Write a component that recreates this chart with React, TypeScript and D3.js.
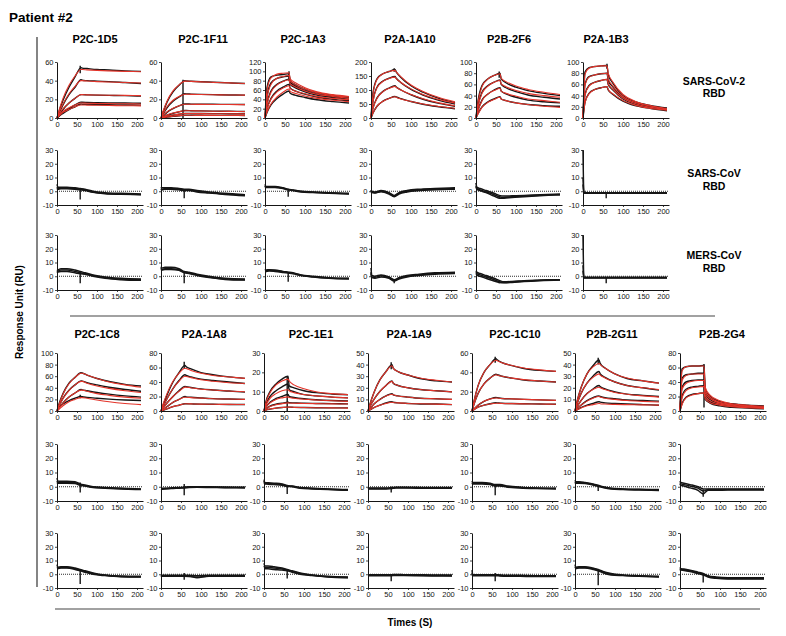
import { useEffect, useRef } from 'react';
import * as d3 from 'd3';

// sample times (s) for the binding sensorgrams and the control traces
const T = [0, 5, 15, 30, 45, 60, 63, 75, 100, 130, 170, 210];
const TC = [0, 2, 10, 25, 45, 58, 70, 90, 120, 160, 210];
const X_TICKS = [0, 50, 100, 150, 200];
const CTRL_TICKS = [-10, 0, 10, 20, 30];

const TOP_NAMES = ['P2C-1D5', 'P2C-1F11', 'P2C-1A3', 'P2A-1A10', 'P2B-2F6', 'P2A-1B3'];
const BOTTOM_NAMES = ['P2C-1C8', 'P2A-1A8', 'P2C-1E1', 'P2A-1A9', 'P2C-1C10', 'P2B-2G11', 'P2B-2G4'];
const TOP_YMAX = [60, 60, 120, 200, 100, 100];
const TOP_YSTEP = [20, 20, 20, 50, 20, 20];
const BOTTOM_YMAX = [100, 80, 30, 50, 60, 50, 80];
const BOTTOM_YSTEP = [20, 20, 10, 10, 20, 10, 20];
const ROW_LABELS = [['SARS-CoV-2', 'RBD'], ['SARS-CoV', 'RBD'], ['MERS-CoV', 'RBD']];

// SARS-CoV-2 RBD binding: black = measured, red = fit
const D5_B = [
  [0, 7, 19, 33, 44, 54, 53.5, 53, 52, 51.5, 50.5, 50],
  [0, 5, 14, 25, 33, 41, 40.5, 40, 39.5, 39, 38, 37],
  [0, 3, 9, 16, 21, 25, 25, 24.8, 24.5, 24.2, 24, 23.5],
  [0, 2, 6, 10, 14, 17, 16.8, 16.6, 16.4, 16.2, 16, 15.8],
  [0, 2, 5, 9, 12, 15, 14.8, 14.6, 14.4, 14.2, 14, 13.8],
];
const D5_R = [
  [0, 8, 21, 35, 45, 52, 52, 51.6, 51, 50.5, 50, 49.5],
  [0, 6, 15, 26, 34, 40, 40, 39.6, 39, 38.5, 38, 37.5],
  [0, 4, 10, 16, 21, 25, 25, 24.8, 24.6, 24.4, 24.2, 24],
  [0, 3, 7, 11, 14, 16, 16, 15.8, 15.6, 15.4, 15.2, 15],
  [0, 2, 6, 9, 12, 14, 14, 13.8, 13.6, 13.4, 13.2, 13],
];
const F11_B = [
  [0, 6, 17, 28, 35, 40, 39.6, 39.3, 38.8, 38.3, 37.6, 37],
  [0, 4, 11, 18, 22.5, 26, 25.8, 25.6, 25.3, 25, 24.7, 24.5],
  [0, 2, 6, 10, 13, 15, 15, 14.9, 14.8, 14.7, 14.6, 14.5],
  [0, 1, 3, 5, 6.5, 8, 8, 7.8, 7.6, 7.4, 7.2, 7],
  [0, 0.6, 1.8, 3, 4, 5, 5, 4.9, 4.8, 4.7, 4.6, 4.5],
  [0, 0.3, 1, 1.8, 2.4, 3, 3, 3, 2.9, 2.8, 2.8, 2.7],
];
const F11_R = [
  [0, 7, 18, 29, 35.5, 39.5, 39.5, 39.2, 38.7, 38.2, 37.6, 37],
  [0, 4.5, 12, 19, 23, 25.5, 25.5, 25.3, 25.1, 24.9, 24.7, 24.5],
  [0, 2.5, 6.5, 10.5, 13, 14.8, 14.8, 14.7, 14.6, 14.5, 14.4, 14.3],
  [0, 1.2, 3.2, 5.3, 6.8, 7.8, 7.8, 7.7, 7.5, 7.3, 7.1, 7],
  [0, 0.7, 2, 3.3, 4.2, 4.9, 4.9, 4.8, 4.7, 4.6, 4.5, 4.4],
  [0, 0.4, 1.1, 1.9, 2.5, 2.9, 2.9, 2.9, 2.8, 2.8, 2.7, 2.7],
];
const A3_B = [
  [0, 65, 88, 92, 93, 95, 80, 72, 62, 54, 48, 45],
  [0, 45, 75, 85, 88, 90, 77, 69, 59, 51, 46, 43],
  [0, 30, 58, 72, 79, 83, 72, 65, 56, 49, 44, 40],
  [0, 20, 42, 58, 66, 72, 64, 58, 51, 45, 40, 37],
  [0, 12, 28, 42, 51, 58, 53, 49, 44, 39, 35, 32],
];
const A3_R = [
  [0, 60, 86, 94, 96, 97, 84, 76, 65, 56, 50, 46],
  [0, 42, 72, 85, 89, 91, 80, 72, 62, 54, 48, 45],
  [0, 28, 55, 71, 78, 82, 73, 67, 58, 51, 46, 42],
  [0, 19, 40, 56, 64, 69, 63, 58, 52, 46, 42, 39],
  [0, 13, 30, 45, 55, 62, 57, 53, 47, 42, 38, 35],
];
const A10_B = [
  [0, 90, 140, 158, 166, 173, 165, 145, 115, 92, 70, 55],
  [0, 60, 110, 132, 142, 148, 142, 126, 102, 82, 63, 50],
  [0, 35, 72, 95, 107, 115, 111, 100, 83, 67, 52, 42],
  [0, 18, 42, 60, 70, 77, 75, 69, 59, 49, 40, 33],
];
const A10_R = [
  [0, 85, 138, 158, 166, 170, 165, 147, 118, 95, 73, 58],
  [0, 58, 108, 131, 141, 146, 141, 127, 104, 84, 66, 53],
  [0, 34, 70, 94, 106, 113, 110, 100, 84, 69, 54, 44],
  [0, 18, 42, 60, 70, 76, 74, 68, 59, 50, 41, 35],
];
const F6_B = [
  [0, 30, 58, 70, 76, 80, 70, 63, 55, 49, 44, 40],
  [0, 22, 46, 58, 64, 68, 60, 54, 47, 41, 37, 34],
  [0, 14, 32, 43, 50, 54, 48, 43, 37, 32, 29, 27],
  [0, 8, 20, 29, 34, 38, 34, 31, 27, 24, 22, 21],
];
const F6_R = [
  [0, 28, 56, 70, 76, 79, 71, 65, 57, 51, 46, 42],
  [0, 20, 44, 57, 64, 67, 61, 56, 49, 44, 40, 37],
  [0, 13, 31, 43, 49, 53, 48, 44, 39, 34, 31, 28],
  [0, 7, 19, 28, 33, 37, 34, 31, 27, 24, 21, 19],
];
const B3_B = [
  [0, 82, 90, 92, 93, 94, 78, 62, 40, 29, 22, 18],
  [0, 60, 74, 77, 79, 80, 68, 55, 37, 27, 20, 16],
  [0, 42, 58, 64, 67, 69, 60, 50, 34, 25, 19, 15],
  [0, 28, 44, 51, 54, 56, 50, 42, 30, 22, 17, 13],
];
const B3_R = [
  [0, 78, 89, 92, 93, 93, 80, 64, 42, 30, 22, 17],
  [0, 58, 73, 77, 79, 80, 70, 57, 38, 28, 21, 16],
  [0, 40, 57, 64, 67, 69, 61, 51, 35, 26, 19, 15],
  [0, 27, 43, 51, 54, 56, 51, 43, 31, 23, 17, 14],
];
const C8_B = [
  [0, 12, 30, 48, 58, 66, 65.5, 62, 56, 51, 46, 43],
  [0, 8, 22, 36, 45, 52, 51.5, 49, 45, 41, 37, 34],
  [0, 5, 14, 24, 31, 37, 36.5, 35, 32, 29, 26, 24],
  [0, 6, 12, 18, 22, 25, 24.5, 23.5, 22, 20.5, 19, 18],
];
const C8_R = [
  [0, 11, 29, 47, 58, 65, 65, 62, 56, 50, 45, 41],
  [0, 8, 21, 35, 45, 51, 51, 48, 43, 39, 35, 32],
  [0, 5, 13, 24, 31, 36, 36, 34, 30, 27, 24, 22],
  [0, 3, 9, 16, 20, 23, 23, 22, 19, 16, 13, 11],
];
const A8_B = [
  [0, 8, 22, 40, 53, 63, 61, 58, 53, 50, 47, 45],
  [0, 6, 17, 31, 42, 50, 49, 47, 44, 42, 40, 38],
  [0, 4, 11, 20, 28, 34, 33.5, 32.5, 30.5, 29, 27.5, 26],
  [0, 2, 6, 12, 16, 20, 19.5, 19, 18, 17, 16.5, 16],
  [0, 1, 3, 6, 8, 10, 10, 9.8, 9.5, 9.3, 9, 9],
];
const A8_R = [
  [0, 9, 24, 41, 52, 59, 58.5, 56, 52, 49, 47, 45],
  [0, 6, 17, 31, 41, 48, 47.5, 46, 43, 41, 39, 38],
  [0, 4, 11, 20, 27, 33, 33, 32, 30, 29, 27.5, 26.5],
  [0, 2, 6, 12, 16, 19, 19, 18.5, 17.8, 17, 16.5, 16],
  [0, 1, 3, 6, 8, 10, 10, 9.8, 9.5, 9.3, 9.1, 9],
];
const E1_B = [
  [0, 5, 10, 14, 16.5, 18, 13, 12, 10.5, 9.5, 8.8, 8.4],
  [0, 3.5, 7.5, 10.5, 12.5, 14, 11, 10, 8.5, 7.8, 7.2, 6.8],
  [0, 2, 4.5, 6.5, 7.5, 8.5, 7.5, 7, 6.3, 5.8, 5.4, 5.2],
  [0, 1, 2.5, 3.5, 4, 4.5, 4.3, 4.2, 4, 3.9, 3.8, 3.7],
  [0, 0.5, 1, 1.5, 1.8, 2, 2, 1.9, 1.8, 1.7, 1.6, 1.6],
];
const E1_R = [
  [0, 4.5, 9.5, 13.5, 15.5, 16.5, 15.5, 13.5, 11.5, 10, 9, 8.5],
  [0, 3, 6.5, 9, 10.5, 11, 10.5, 9.5, 8.5, 7.8, 7.2, 6.8],
  [0, 2, 4.2, 6, 6.8, 7.3, 7, 6.6, 6.1, 5.7, 5.3, 5],
  [0, 1, 2.3, 3.3, 3.8, 4.2, 4.1, 4, 3.9, 3.8, 3.7, 3.6],
  [0, 0.5, 1, 1.5, 1.8, 2, 2, 1.9, 1.8, 1.7, 1.6, 1.5],
];
const A9_B = [
  [0, 6, 16, 27, 34, 40, 37, 34, 31, 28, 26, 25],
  [0, 4, 10, 17, 22, 26, 24, 22, 20, 18.5, 17.5, 16.5],
  [0, 2, 6, 10, 13, 15, 14, 13, 12, 11, 10.5, 10],
  [0, 1, 3, 5, 7, 8, 7.5, 7, 6.5, 6, 6, 5.5],
];
const A9_R = [
  [0, 6, 16, 27, 34, 39, 37, 34, 31, 28.5, 26.5, 25],
  [0, 4, 10, 17, 22, 25.5, 24, 22, 20, 18.5, 17.5, 16.5],
  [0, 2, 6, 10, 13, 14.5, 14, 13, 12, 11, 10.5, 10],
  [0, 1, 3, 5, 6.5, 7.5, 7.3, 7, 6.5, 6.2, 5.9, 5.6],
];
const C10_B = [
  [0, 10, 26, 40, 48, 54, 53, 50, 47, 44, 42, 41],
  [0, 7, 18, 28, 34, 38, 37.5, 36, 34, 32, 31, 30],
  [0, 2, 6, 10, 12.5, 14, 13.8, 13, 12.5, 12, 11.5, 11],
  [0, 1.5, 4, 6, 7.5, 8.5, 8.4, 8, 7.7, 7.5, 7.2, 7],
];
const C10_R = [
  [0, 10, 26, 40, 48, 52.5, 52, 50, 47, 44.5, 42.5, 41],
  [0, 7, 18, 28, 34, 37.5, 37.2, 36, 34, 32.5, 31, 30],
  [0, 2, 6, 10, 12.3, 13.5, 13.4, 13, 12.5, 12, 11.5, 11],
  [0, 1.5, 4, 6, 7.3, 8, 8, 7.8, 7.6, 7.4, 7.2, 7],
];
const G11_B = [
  [0, 8, 20, 32, 39, 44, 41, 37, 32, 28, 26, 24],
  [0, 6, 15, 24, 30, 34, 32, 29, 25, 22, 20, 18],
  [0, 3.5, 9, 15, 19, 22, 21, 19, 16.5, 14.5, 13.5, 12.5],
  [0, 2, 5, 9, 11.5, 13, 12.5, 11.5, 10.5, 9.5, 9, 8.5],
  [0, 1, 3, 5, 6.5, 8, 7.6, 7, 6.5, 6, 5.5, 5],
];
const G11_R = [
  [0, 8, 20, 32, 38, 41, 40, 37, 32, 28.5, 26, 24],
  [0, 6, 15, 24, 29, 32, 31, 28.5, 25, 22, 20, 18.5],
  [0, 3.5, 9, 15, 18.5, 20.5, 20, 18.5, 16, 14.5, 13, 12],
  [0, 2, 5, 8.5, 11, 12.5, 12, 11, 10, 9, 8.3, 7.8],
  [0, 1, 2.5, 4.5, 5.5, 6.5, 6.3, 6, 5.7, 5.5, 5.3, 5.1],
];
const G4_B = [
  [0, 58, 61, 62, 62, 63, 30, 20, 13, 10, 8, 7],
  [0, 45, 50, 51, 52, 52, 27, 18, 12, 9, 7, 6],
  [0, 32, 40, 42, 43, 43, 24, 16, 10, 7.5, 6, 5],
  [0, 20, 30, 33, 34, 35, 20, 13, 9, 6.5, 5, 4],
  [0, 10, 19, 23, 24, 25, 16, 11, 7, 5, 4, 3],
];
const G4_R = [
  [0, 55, 61, 62, 62, 62, 33, 22, 14, 10, 8, 6.5],
  [0, 42, 49, 51, 51, 51, 29, 19, 12, 9, 7, 5.5],
  [0, 30, 38, 41, 42, 42, 25, 17, 11, 8, 6, 5],
  [0, 18, 28, 32, 33, 34, 21, 14, 9.5, 7, 5.5, 4.5],
  [0, 9, 18, 22, 24, 25, 17, 11.5, 8, 6, 4.5, 3.5],
];
// vertical injection artefacts in binding panels: [t, low, high]
const TOP_SPIKES = [[58, 48, 56], [55, 0, 41], [60, 80, 100], [58, 165, 178], [58, 72, 83], [60, 88, 97]];
const BOTTOM_SPIKES = [[58, 22, 28], [58, 58, 68], [58, 0, 18], [58, 36, 42], [58, 50, 56], [58, 40, 46], [60, 5, 65]];

// SARS-CoV RBD and MERS-CoV RBD controls (top block)
const CV_TOP = [
  [[5, 3, 3, 3, 2.5, 2, 1.5, 0, -1, -1.5, -2], [3, 2, 2.3, 2.3, 2, 1.5, 1, -0.5, -1.5, -2, -2.3], [2, 1.5, 1.8, 1.8, 1.5, 1, 0.5, -0.8, -1.8, -2.2, -2.5]],
  [[3, 2.5, 2.5, 2.5, 2, 1.5, 1.5, 0.5, -0.5, -1.5, -2.5], [2, 1.5, 2, 2, 1.5, 1, 1, 0, -1, -2, -3], [1.5, 1, 1.5, 1.5, 1, 0.5, 0.5, -0.5, -1.3, -2.3, -3.2]],
  [[5, 3.5, 3.5, 3.5, 2.5, 1.5, 1, 0, -0.5, -1, -1.5], [4, 3, 3, 3, 2.2, 1.2, 0.8, -0.2, -0.8, -1.2, -1.8], [3.5, 2.8, 2.8, 2.8, 2, 1, 0.5, -0.5, -1, -1.5, -2]],
  [[1, 0, -0.5, 0.5, -1, -3, -1, 0.5, 1.5, 2, 2.5], [0.5, -0.5, -1, 0, -1.5, -3.5, -1.5, 0, 1, 1.5, 2], [0, -1, -1.2, -0.3, -2, -4, -2, -0.5, 0.5, 1, 1.5]],
  [[6, 3, 2, 0.5, -1.5, -3, -3.5, -3.3, -3, -2.5, -2], [4, 2, 1, -0.5, -2.5, -4, -4.5, -4, -3.5, -3, -2.5], [3, 1.5, 0.5, -1, -3.5, -5, -5, -4.5, -4, -3.2, -2.5]],
  [[30, -0.5, -1, -1, -1, -1, -1, -1, -1, -1, -1], [10, -1, -1.2, -1.2, -1.2, -1.2, -1.2, -1.2, -1.2, -1.2, -1.2], [5, -1.5, -1.5, -1.5, -1.5, -1.5, -1.5, -1.5, -1.5, -1.5, -1.5]],
];
const MR_TOP = [
  [[4, 4.5, 5.5, 5.5, 4.5, 3.5, 2.5, 1, -0.5, -1.5, -2], [3, 3.5, 4.5, 4.5, 3.5, 2.5, 2, 0.5, -1, -2, -2.5], [2.5, 3, 3.5, 3.5, 2.5, 1.8, 1.5, 0, -1.5, -2.5, -3]],
  [[7, 6, 6.5, 6.5, 5.5, 3.5, 3, 1.5, 0, -1.5, -2], [6, 5, 5.5, 5.5, 4.8, 3, 2.5, 1, -0.5, -2, -2.5], [5, 4.5, 5, 5, 4.3, 2.5, 2, 0.5, -1, -2.3, -2.8]],
  [[5, 4.5, 4.8, 4.5, 3.5, 3, 2.5, 1, 0, -1, -1.5], [4, 4, 4.3, 4, 3.2, 2.7, 2.2, 0.8, -0.3, -1.2, -1.7], [3.5, 3.5, 3.8, 3.5, 2.8, 2.3, 1.8, 0.5, -0.5, -1.4, -2]],
  [[6, 0.5, 0, 1, -0.5, -2.5, -1, 0.5, 1.5, 2.5, 3], [3, -0.5, -0.8, 0.3, -1, -3, -1.5, 0, 1, 2, 2.5], [2, -1, -1.5, -0.5, -1.5, -3.5, -2, -0.5, 0.5, 1.5, 2]],
  [[4, 3, 2, 0.5, -1.5, -3, -4, -3.8, -3.2, -2.8, -2.5], [3, 2, 1, -0.5, -2.5, -4, -4.5, -4.2, -3.5, -3, -2.5], [2, 1, 0, -1.5, -3.5, -4.5, -4.8, -4.5, -3.8, -3.2, -2.8]],
  [[30, -0.5, -0.8, -0.8, -0.8, -0.8, -0.8, -0.8, -0.8, -0.8, -0.8], [8, -1, -1, -1, -1, -1, -1, -1, -1, -1, -1], [4, -1.3, -1.3, -1.3, -1.3, -1.3, -1.3, -1.3, -1.3, -1.3, -1.3]],
];
// controls (bottom block)
const CV_BOTTOM = [
  [[6, 4, 3.8, 3.8, 3.5, 2, 1.2, 0, -0.5, -1, -1.5], [4, 3, 3, 3, 2.8, 1.5, 0.8, -0.3, -0.8, -1.3, -1.8], [3, 2.5, 2.5, 2.5, 2.2, 1, 0.5, -0.5, -1, -1.5, -2]],
  [[-1, -1, -1, -0.8, -0.5, -0.3, 0, 0, 0, -0.2, -0.3], [-1.5, -1.5, -1.3, -1, -0.8, -0.5, -0.3, -0.2, -0.3, -0.5, -0.6], [-2, -1.8, -1.6, -1.3, -1, -0.8, -0.5, -0.4, -0.5, -0.7, -0.8]],
  [[5, 3, 2.8, 2.5, 2, 0.8, 0.5, -0.5, -1, -1.5, -2], [4, 2.5, 2.3, 2, 1.5, 0.5, 0.3, -0.7, -1.2, -1.7, -2.2], [3, 2, 1.8, 1.5, 1, 0.2, 0, -1, -1.5, -2, -2.5]],
  [[-0.5, -0.8, -0.8, -0.8, -0.8, -0.6, -0.3, -0.3, -0.4, -0.5, -0.5], [-1, -1.2, -1.2, -1.2, -1.2, -1, -0.6, -0.6, -0.7, -0.8, -0.8], [-1.5, -1.5, -1.5, -1.5, -1.5, -1.3, -0.9, -0.9, -1, -1.1, -1.1]],
  [[4, 3, 3, 3, 2.5, 1.5, 1.5, 0.5, -0.3, -0.8, -1], [3, 2.5, 2.5, 2.5, 2, 1, 1, 0, -0.6, -1, -1.3], [2.5, 2, 2, 2, 1.5, 0.6, 0.6, -0.3, -0.8, -1.2, -1.5]],
  [[4.5, 3.5, 3.5, 3, 2, 1, 0, -1, -1.5, -1.8, -2], [3.5, 3, 3, 2.6, 1.6, 0.6, -0.3, -1.3, -1.8, -2, -2.3], [3, 2.5, 2.5, 2.2, 1.2, 0.3, -0.6, -1.6, -2, -2.3, -2.6]],
  [[4, 3, 2.5, 1.5, 0, -1.5, -1.5, -1.5, -1.5, -1.5, -1.5], [3, 2, 1.5, 0.5, -1, -3, -2, -2, -2, -2, -2], [2, 1, 0.5, -0.8, -2.5, -5, -2.5, -2.5, -2.3, -2.3, -2.3]],
];
const MR_BOTTOM = [
  [[7, 5, 5.5, 5.5, 4.5, 3.5, 2.5, 1, -0.5, -1.3, -1.5], [5, 4.5, 5, 5, 4, 3, 2, 0.5, -0.8, -1.6, -1.8], [4, 4, 4.5, 4.5, 3.5, 2.5, 1.5, 0, -1, -1.8, -2]],
  [[-0.5, -0.8, -0.8, -0.8, -0.8, -0.8, -0.8, -1, -0.8, -0.8, -0.8], [-1, -1.2, -1.2, -1.2, -1.2, -1.2, -1.3, -2.5, -1.2, -1.2, -1.2], [-1.3, -1.5, -1.5, -1.5, -1.5, -1.5, -1.6, -2, -1.5, -1.5, -1.5]],
  [[8, 6, 6, 5.5, 4.5, 3.5, 2.5, 1, -0.5, -1.5, -2], [6, 5, 5, 4.5, 3.8, 3, 2, 0.5, -0.8, -1.8, -2.3], [4, 4, 4, 3.5, 3, 2.5, 1.5, 0, -1, -2, -2.5]],
  [[-0.3, -0.3, -0.3, -0.3, -0.3, -0.3, -0.2, -0.3, -0.4, -0.5, -0.6], [-0.7, -0.7, -0.7, -0.7, -0.7, -0.7, -0.6, -0.7, -0.8, -0.9, -1], [-1, -1, -1, -1, -1, -1, -0.9, -1, -1.1, -1.2, -1.3]],
  [[3, -0.3, -0.3, -0.3, -0.3, -0.3, -0.5, -0.7, -0.8, -1, -1], [1, -0.7, -0.7, -0.7, -0.7, -0.7, -0.9, -1.1, -1.2, -1.4, -1.4], [0, -1, -1, -1, -1, -1, -1.2, -1.4, -1.5, -1.7, -1.7]],
  [[7, 5, 5.5, 5.5, 4.5, 3.5, 2, 0.5, -0.5, -1, -1.5], [5.5, 4.5, 5, 5, 4, 3, 1.5, 0, -0.8, -1.3, -1.8], [4, 4, 4.5, 4.5, 3.5, 2.5, 1, -0.5, -1, -1.5, -2]],
  [[5, 4, 3.8, 3, 1.5, 0.5, -1, -2, -2.5, -2.5, -2.5], [4, 3.5, 3.3, 2.5, 1, 0, -1.5, -2.5, -3, -3, -3], [3.5, 3, 2.8, 2, 0.5, -0.5, -2, -3, -3.5, -3.5, -3.5]],
];
// injection-end dips in controls: [high, low] at t = 58
const CV_TOP_DIP = [[2, -6], [1, -5], [1, -4], [-3, -4], [-4, -5], [-1, -5]];
const MR_TOP_DIP = [[3, -5], [3, -5], [2.5, -4], [-2, -5], [-4, -5], [-1, -5]];
const CV_BOTTOM_DIP = [[3, -4], [2, -6], [1, -5], [0, -4], [1.5, -6], [1, -3], [-2, -7]];
const MR_BOTTOM_DIP = [[3, -7], [1, -4], [2.5, -3], [0, -5], [1, -5], [3, -8], [1, -6]];

const TOP_BLACK = [D5_B, F11_B, A3_B, A10_B, F6_B, B3_B];
const TOP_RED = [D5_R, F11_R, A3_R, A10_R, F6_R, B3_R];
const BOTTOM_BLACK = [C8_B, A8_B, E1_B, A9_B, C10_B, G11_B, G4_B];
const BOTTOM_RED = [C8_R, A8_R, E1_R, A9_R, C10_R, G11_R, G4_R];

// layout
const TOP_COLS = [57, 161, 265, 371, 476, 583];
const BOTTOM_COLS = [57, 161, 264, 368, 472, 575, 680];
const TOP_TITLE_X = [95, 203, 303, 410, 509, 606];
const BOTTOM_TITLE_X = [97, 204, 311, 409, 515, 612, 722];
const FONT = '"Liberation Sans", Arial, Helvetica, sans-serif';
const RED = '#e3342a';
const INK = '#151515';

export default function App() {
  const svgRef = useRef<SVGSVGElement>(null);

  useEffect(() => {
    if (!svgRef.current) return;
    const svg = d3.select(svgRef.current);
    svg.selectAll('*').remove();

    svg.append('rect').attr('width', 786).attr('height', 636).attr('fill', '#fff');

    const x = d3.scaleLinear().domain([0, 215]).range([0, 86]);

    const styleAxis = (a: d3.Selection<SVGGElement, unknown, null, undefined>) => {
      a.attr('font-size', 7.5).attr('font-family', FONT);
      a.selectAll('.domain').attr('stroke', INK).attr('stroke-width', 1);
      a.selectAll('.tick line').attr('stroke', INK).attr('stroke-width', 0.8);
      a.selectAll('.tick text').attr('fill', INK);
    };

    const drawAxes = (g: d3.Selection<SVGGElement, unknown, null, undefined>, y: d3.ScaleLinear<number, number>, ticks: number[], xAt: number) => {
      const ya = g.append('g').call(
        d3.axisLeft(y).tickValues(ticks).tickSize(2).tickPadding(1.5).tickSizeOuter(0).tickFormat((d) => String(d))
      );
      styleAxis(ya);
      const xa = g.append('g')
        .attr('transform', `translate(0,${y(xAt)})`)
        .call(d3.axisBottom(x).tickValues(X_TICKS).tickSize(2).tickPadding(1.5).tickSizeOuter(0).tickFormat((d) => String(d)));
      styleAxis(xa);
    };

    const bindingPanel = (x0: number, top: number, bottom: number, ymax: number, step: number,
      black: number[][], red: number[][], spike: number[]) => {
      const g = svg.append('g').attr('transform', `translate(${x0},0)`);
      const y = d3.scaleLinear().domain([0, ymax]).range([bottom, top]);
      const line = d3.line<number>().x((_, i) => x(T[i])).y((d) => y(d)).curve(d3.curveMonotoneX);
      black.forEach((s) => {
        g.append('path').attr('d', line(s) ?? '').attr('fill', 'none').attr('stroke', INK).attr('stroke-width', 1.4);
      });
      g.append('line')
        .attr('x1', x(spike[0])).attr('x2', x(spike[0]))
        .attr('y1', y(spike[1])).attr('y2', y(spike[2]))
        .attr('stroke', INK).attr('stroke-width', 1.4);
      red.forEach((s) => {
        g.append('path').attr('d', line(s) ?? '').attr('fill', 'none').attr('stroke', RED).attr('stroke-width', 1.1);
      });
      drawAxes(g, y, d3.range(0, ymax + step / 2, step), 0);
    };

    const controlPanel = (x0: number, top: number, bottom: number, curves: number[][], dip: number[]) => {
      const g = svg.append('g').attr('transform', `translate(${x0},0)`);
      const y = d3.scaleLinear().domain([-10, 30]).range([bottom, top]);
      const line = d3.line<number>().x((_, i) => x(TC[i])).y((d) => y(d)).curve(d3.curveMonotoneX);
      g.append('line')
        .attr('x1', x(0)).attr('x2', x(215))
        .attr('y1', y(0)).attr('y2', y(0))
        .attr('stroke', INK).attr('stroke-width', 0.9).attr('stroke-dasharray', '1,1');
      curves.forEach((s) => {
        g.append('path').attr('d', line(s) ?? '').attr('fill', 'none').attr('stroke', INK).attr('stroke-width', 1.5);
      });
      g.append('line')
        .attr('x1', x(58)).attr('x2', x(58))
        .attr('y1', y(dip[0])).attr('y2', y(dip[1]))
        .attr('stroke', INK).attr('stroke-width', 1.4);
      drawAxes(g, y, CTRL_TICKS, -10);
    };

    // top block
    TOP_COLS.forEach((x0, i) => {
      bindingPanel(x0, 62, 118, TOP_YMAX[i], TOP_YSTEP[i], TOP_BLACK[i], TOP_RED[i], TOP_SPIKES[i]);
      controlPanel(x0, 150, 205, CV_TOP[i], CV_TOP_DIP[i]);
      controlPanel(x0, 235, 290, MR_TOP[i], MR_TOP_DIP[i]);
    });
    // bottom block
    BOTTOM_COLS.forEach((x0, i) => {
      bindingPanel(x0, 353, 411, BOTTOM_YMAX[i], BOTTOM_YSTEP[i], BOTTOM_BLACK[i], BOTTOM_RED[i], BOTTOM_SPIKES[i]);
      controlPanel(x0, 444, 501, CV_BOTTOM[i], CV_BOTTOM_DIP[i]);
      controlPanel(x0, 533, 588, MR_BOTTOM[i], MR_BOTTOM_DIP[i]);
    });

    // titles
    const bold = (tx: number, ty: number, text: string, size: number, anchor = 'middle') =>
      svg.append('text').attr('x', tx).attr('y', ty).attr('text-anchor', anchor)
        .attr('font-family', FONT).attr('font-weight', 'bold').attr('font-size', size).attr('fill', '#000').text(text);

    TOP_NAMES.forEach((n, i) => bold(TOP_TITLE_X[i], 43, n, 11));
    BOTTOM_NAMES.forEach((n, i) => bold(BOTTOM_TITLE_X[i], 338, n, 11));

    const labelY = [[85, 97], [177, 190], [259, 272]];
    ROW_LABELS.forEach((lines, r) => {
      lines.forEach((t, k) => bold(714, labelY[r][k], t, 10.5));
    });

    bold(9, 22, 'Patient #2', 13.5, 'start');
    bold(410, 626, 'Times (S)', 10);
    bold(0, 0, 'Response Unit (RU)', 10).attr('transform', 'translate(23,312) rotate(-90)');

    // frame lines
    svg.append('line').attr('x1', 37).attr('x2', 37).attr('y1', 37).attr('y2', 587)
      .attr('stroke', '#333').attr('stroke-width', 1.2);
    svg.append('line').attr('x1', 70).attr('x2', 715).attr('y1', 316).attr('y2', 316)
      .attr('stroke', '#444').attr('stroke-width', 1.2);
    svg.append('line').attr('x1', 55).attr('x2', 760).attr('y1', 609).attr('y2', 609)
      .attr('stroke', '#444').attr('stroke-width', 1.2);
  }, []);

  return (
    <svg
      ref={svgRef}
      width={786}
      height={636}
      style={{ position: 'absolute', left: 0, top: 0, display: 'block' }}
    />
  );
}
